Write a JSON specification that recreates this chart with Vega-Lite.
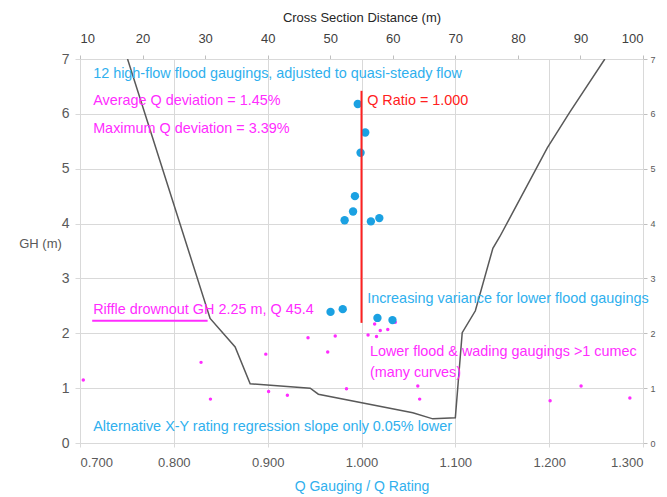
{
  "$schema": "https://vega.github.io/schema/vega-lite/v6.json",
  "width": 563,
  "height": 384,
  "autosize": {"type": "none"},
  "padding": {"left": 80, "top": 59, "right": 24, "bottom": 54},
  "background": "white",
  "config": {
    "view": {"stroke": null},
    "font": "Liberation Sans",
    "axis": {"labelFont": "Liberation Sans", "titleFont": "Liberation Sans", "titleFontWeight": "normal"}
  },
  "datasets": {
    "section": [
      {"dist": 17.6, "elev": 7.0},
      {"dist": 30.8, "elev": 2.27},
      {"dist": 34.8, "elev": 1.75},
      {"dist": 37.2, "elev": 1.08},
      {"dist": 46.8, "elev": 1.0},
      {"dist": 48.1, "elev": 0.89},
      {"dist": 63.2, "elev": 0.55},
      {"dist": 66.4, "elev": 0.44},
      {"dist": 70.0, "elev": 0.46},
      {"dist": 71.1, "elev": 2.01},
      {"dist": 73.2, "elev": 2.41},
      {"dist": 76.0, "elev": 3.55},
      {"dist": 77.1, "elev": 3.76},
      {"dist": 84.7, "elev": 5.38},
      {"dist": 88.3, "elev": 6.03},
      {"dist": 93.9, "elev": 7.0}
    ],
    "flood": [
      {"ratio": 0.996, "gh": 6.18},
      {"ratio": 1.004, "gh": 5.66},
      {"ratio": 0.999, "gh": 5.29},
      {"ratio": 0.993, "gh": 4.5},
      {"ratio": 0.991, "gh": 4.22},
      {"ratio": 0.982, "gh": 4.06},
      {"ratio": 1.01, "gh": 4.04},
      {"ratio": 1.019, "gh": 4.1},
      {"ratio": 0.967, "gh": 2.39},
      {"ratio": 0.98, "gh": 2.44},
      {"ratio": 1.017, "gh": 2.28},
      {"ratio": 1.033, "gh": 2.24}
    ],
    "lower": [
      {"ratio": 0.7035, "gh": 1.15},
      {"ratio": 0.829, "gh": 1.47},
      {"ratio": 0.839, "gh": 0.8},
      {"ratio": 0.898, "gh": 1.62},
      {"ratio": 0.901, "gh": 0.94},
      {"ratio": 0.921, "gh": 0.87},
      {"ratio": 0.943, "gh": 1.92},
      {"ratio": 0.964, "gh": 1.66},
      {"ratio": 0.972, "gh": 1.95},
      {"ratio": 0.984, "gh": 0.99},
      {"ratio": 1.007, "gh": 1.97},
      {"ratio": 1.014, "gh": 2.17},
      {"ratio": 1.016, "gh": 1.94},
      {"ratio": 1.02, "gh": 2.05},
      {"ratio": 1.028, "gh": 2.07},
      {"ratio": 1.036, "gh": 2.2},
      {"ratio": 1.06, "gh": 1.04},
      {"ratio": 1.062, "gh": 0.8},
      {"ratio": 1.201, "gh": 0.77},
      {"ratio": 1.234, "gh": 1.04},
      {"ratio": 1.286, "gh": 0.82}
    ]
  },
  "layer": [
    {
      "data": {"name": "section"},
      "mark": {"type": "line", "color": "#595959", "strokeWidth": 1.5, "clip": true},
      "encoding": {
        "x": {"field": "dist", "type": "quantitative", "scale": {"domain": [10, 100], "nice": false, "zero": false},
          "axis": {"orient": "top", "title": "Cross Section Distance (m)", "values": [10,20,30,40,50,60,70,80,90,100], "grid": false,
            "domainColor": "#d9d9d9", "tickColor": "#bfbfbf", "tickSize": 4, "labelColor": "#404040", "labelFontSize": 13, "labelPadding": 10,
            "titleColor": "#262626", "titleFontSize": 13, "titlePadding": 8}},
        "y": {"field": "elev", "type": "quantitative", "scale": {"domain": [0, 7], "nice": false},
          "axis": {"orient": "right", "title": null, "values": [0,1,2,3,4,5,6,7], "format": "d", "grid": false,
            "domainColor": "#d9d9d9", "tickColor": "#bfbfbf", "tickSize": 4, "labelColor": "#595959", "labelFontSize": 9, "labelPadding": 3}}
      }
    },
    {
      "layer": [
        {
          "data": {"name": "lower"},
          "mark": {"type": "point", "filled": true, "color": "#ff2cff", "size": 12, "opacity": 1},
          "encoding": {
            "x": {"field": "ratio", "type": "quantitative", "scale": {"domain": [0.7, 1.3], "nice": false, "zero": false},
              "axis": {"orient": "bottom", "title": "Q Gauging / Q Rating", "values": [0.7,0.8,0.9,1.0,1.1,1.2,1.3], "format": ".3f",
                "grid": true, "gridColor": "#d9d9d9", "domainColor": "#d9d9d9", "tickColor": "#d9d9d9", "tickSize": 4,
                "labelColor": "#595959", "labelFontSize": 13, "labelPadding": 9, "titleColor": "#2fb0ee", "titleFontSize": 14, "titlePadding": 10}},
            "y": {"field": "gh", "type": "quantitative", "scale": {"domain": [0, 7], "nice": false},
              "axis": {"orient": "left", "title": "GH (m)", "values": [0,1,2,3,4,5,6,7], "format": "d", "grid": true, "gridColor": "#d9d9d9",
                "domainColor": "#d9d9d9", "tickColor": "#d9d9d9", "tickSize": 5, "labelColor": "#595959", "labelFontSize": 14, "labelPadding": 6,
                "titleColor": "#595959", "titleFontSize": 13, "titleAngle": 0, "titleAlign": "center", "titleBaseline": "middle", "titleX": -40, "titleY": 184}}
          }
        },
        {
          "data": {"name": "flood"},
          "mark": {"type": "point", "filled": true, "color": "#1ba1e2", "size": 70, "opacity": 1},
          "encoding": {
            "x": {"field": "ratio", "type": "quantitative"},
            "y": {"field": "gh", "type": "quantitative"}
          }
        },
        {
          "data": {"values": [{"ratio": 1.0, "gh": 2.19, "gh2": 6.42}]},
          "mark": {"type": "rule", "color": "#ff2020", "strokeWidth": 2},
          "encoding": {
            "x": {"field": "ratio", "type": "quantitative"},
            "y": {"field": "gh", "type": "quantitative"},
            "y2": {"field": "gh2"}
          }
        },
        {
          "data": {"values": [{"ratio": 0.713, "ratio2": 0.836, "gh": 2.23}]},
          "mark": {"type": "rule", "color": "#ff2cff", "strokeWidth": 2},
          "encoding": {
            "x": {"field": "ratio", "type": "quantitative"},
            "x2": {"field": "ratio2"},
            "y": {"field": "gh", "type": "quantitative"}
          }
        },
        {
          "data": {"values": [
            {"ratio": 0.714, "gh": 6.73, "label": "12 high-flow flood gaugings, adjusted to quasi-steady flow"},
            {"ratio": 1.006, "gh": 2.62, "label": "Increasing variance for lower flood gaugings"},
            {"ratio": 0.714, "gh": 0.3, "label": "Alternative X-Y rating regression slope only 0.05% lower"}
          ]},
          "mark": {"type": "text", "align": "left", "baseline": "middle", "color": "#2fb0ee", "fontSize": 14.4, "font": "Liberation Sans"},
          "encoding": {
            "x": {"field": "ratio", "type": "quantitative"},
            "y": {"field": "gh", "type": "quantitative"},
            "text": {"field": "label"}
          }
        },
        {
          "data": {"values": [
            {"ratio": 0.714, "gh": 6.23, "label": "Average Q deviation = 1.45%"},
            {"ratio": 0.714, "gh": 5.72, "label": "Maximum Q deviation = 3.39%"},
            {"ratio": 0.714, "gh": 2.42, "label": "Riffle drownout GH 2.25 m, Q 45.4"},
            {"ratio": 1.009, "gh": 1.65, "label": "Lower flood & wading gaugings >1 cumec"},
            {"ratio": 1.009, "gh": 1.28, "label": "(many curves)"}
          ]},
          "mark": {"type": "text", "align": "left", "baseline": "middle", "color": "#ff2cff", "fontSize": 14.4, "font": "Liberation Sans"},
          "encoding": {
            "x": {"field": "ratio", "type": "quantitative"},
            "y": {"field": "gh", "type": "quantitative"},
            "text": {"field": "label"}
          }
        },
        {
          "data": {"values": [{"ratio": 1.006, "gh": 6.23, "label": "Q Ratio = 1.000"}]},
          "mark": {"type": "text", "align": "left", "baseline": "middle", "color": "#ff2020", "fontSize": 14.4, "font": "Liberation Sans"},
          "encoding": {
            "x": {"field": "ratio", "type": "quantitative"},
            "y": {"field": "gh", "type": "quantitative"},
            "text": {"field": "label"}
          }
        }
      ]
    }
  ],
  "resolve": {"scale": {"x": "independent", "y": "independent"}, "axis": {"x": "independent", "y": "independent"}}
}
